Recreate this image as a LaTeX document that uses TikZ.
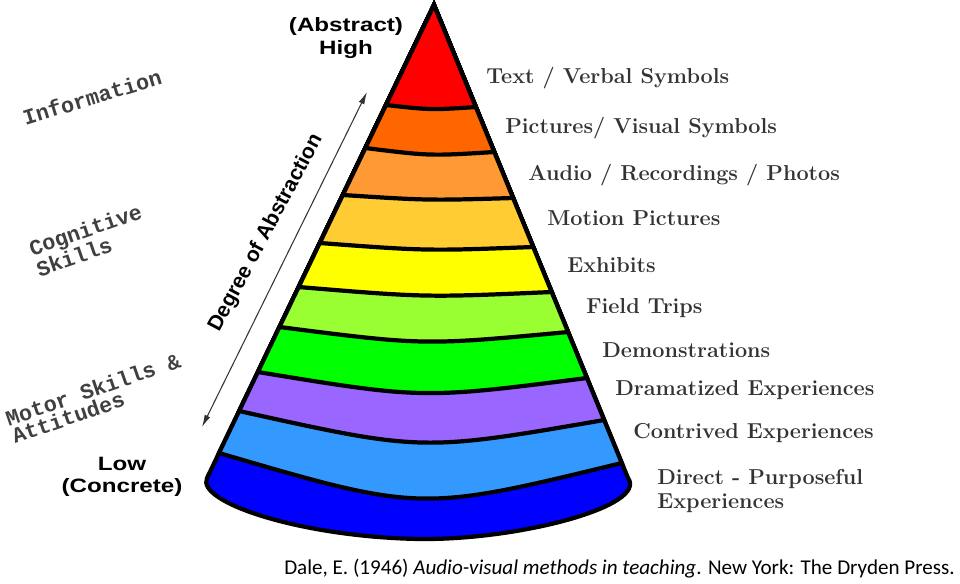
\documentclass[tikz,border=0pt]{standalone}
\usepackage{fontspec}
\usepackage{tikz}
\usetikzlibrary{arrows.meta}
\newfontfamily\heavyfont[FakeStretch=1.25]{Liberation Sans}
\newfontfamily\arialfont{Liberation Sans}
\newfontfamily\courfont{Liberation Mono}
\newfontfamily\calfont{Carlito}
\definecolor{cred}{HTML}{FF0000}
\definecolor{corange}{HTML}{FF6600}
\definecolor{clorange}{HTML}{FF9933}
\definecolor{cyorange}{HTML}{FFCC33}
\definecolor{cyellow}{HTML}{FFFF00}
\definecolor{clgreen}{HTML}{99FF33}
\definecolor{cgreen}{HTML}{00FF00}
\definecolor{cpurple}{HTML}{9966FF}
\definecolor{clblue}{HTML}{3399FF}
\definecolor{cblue}{HTML}{0000FF}
\tikzset{x=0.02cm, y=-0.02cm,
  band/.style={draw=black, line width=2.4pt},
  itemlabel/.style={anchor=west, inner sep=0pt, text=black!80,
    font=\bfseries\fontsize{12.3}{13.7}\selectfont},
  areatext/.style={font=\courfont\bfseries\fontsize{12.4}{10.6}\selectfont,
    align=left, text=black!75, inner sep=0pt},
  endlabel/.style={font=\heavyfont\bfseries\fontsize{11}{12.8}\selectfont,
    align=center, inner sep=0pt},
  scalearrow/.style={{Latex[length=7pt,width=3.5pt]}-{Latex[length=7pt,width=3.5pt]},
    draw=black!80, line width=0.6pt}
}
\begin{document}
\begin{tikzpicture}
  \useasboundingbox (0,0) rectangle (960,583);

  % the cone, lowest band first
  \filldraw[band, fill=cblue] (434,5) -- (207,478)
    .. controls (196,502) and (300,537) .. (420,539)
    .. controls (520,540) and (648,506) .. (628,478) -- cycle;
  \foreach \yl/\yr/\s/\c in {453/463/27/clblue, 411/420/18/cpurple,
      372/378/12/cgreen, 327/332/8/clgreen, 287/292/4/cyellow,
      243/247/3/cyorange, 195/198/2/clorange, 148/152/3/corange,
      105/107/2/cred}
    \filldraw[band, fill=\c] (434,5) -- ({434-0.48*(\yl-5)},\yl)
      .. controls ({434+0.41*(\yr-5)/2-0.48*(\yl-5)/2},{(\yl+\yr)/2+2*\s})
      .. ({434+0.41*(\yr-5)},\yr) -- cycle;

  % media
  \node[itemlabel] (verbal) at (486,78) {Text / Verbal Symbols};
  \node[itemlabel] (visual) at (505,128) {Pictures/ Visual Symbols};
  \node[itemlabel] (audio) at (528,175) {Audio / Recordings / Photos};
  \node[itemlabel] (motion) at (547,218) {Motion Pictures};
  \node[itemlabel] (exhibits) at (567,265) {Exhibits};
  \node[itemlabel] (trips) at (586,308) {Field Trips};
  \node[itemlabel] (demos) at (602,350) {Demonstrations};
  \node[itemlabel] (dramatized) at (615,390) {Dramatized Experiences};
  \node[itemlabel] (contrived) at (633,433) {Contrived Experiences};
  \node[itemlabel, align=left] (direct) at (657,491) {Direct - Purposeful\\Experiences};

  % ends of the scale
  \node[endlabel] (high) at (346,38) {(Abstract)\\High};
  \node[endlabel] (low) at (122,477) {Low\\(Concrete)};

  \coordinate (lowend) at (202,427);
  \coordinate (highend) at (367,92);
  \draw[scalearrow] (lowend) -- (highend);
  \node[rotate=62, font=\arialfont\bfseries\fontsize{12}{14}\selectfont] (degree) at (266,233) {Degree of Abstraction};

  % learning areas
  \node[areatext, rotate=17] (info) at (92,97) {Information};
  \node[areatext, rotate=19] (cognitive) at (89,240) {Cognitive\\Skills};
  \node[areatext, rotate=19] (motor) at (96,398) {Motor Skills \&\\Attitudes};

  \node[font=\calfont\fontsize{12}{14}\selectfont, anchor=east, inner sep=0pt] (source) at (955,569)
    {Dale, E. (1946) \textit{Audio-visual methods in teaching}. New York: The Dryden Press.};
\end{tikzpicture}
\end{document}
